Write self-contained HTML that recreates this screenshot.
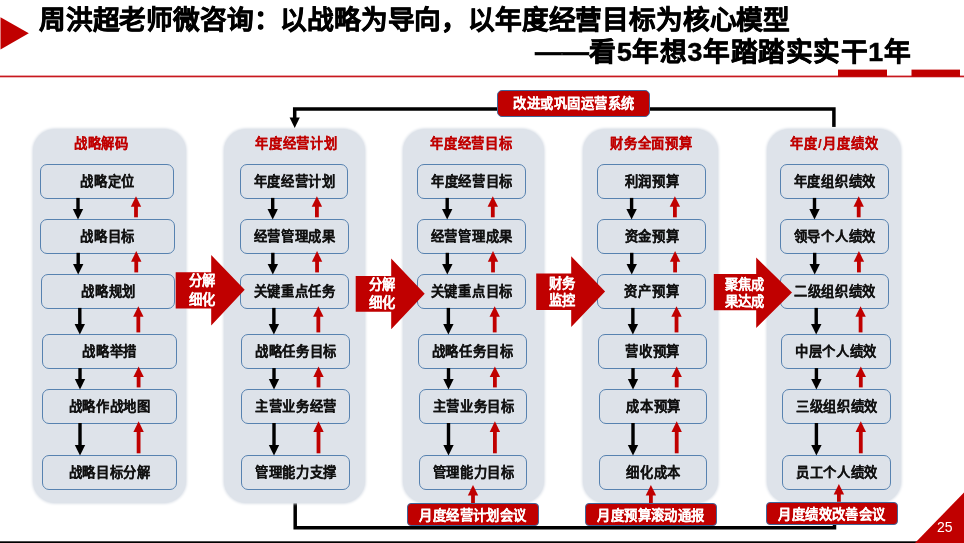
<!DOCTYPE html>
<html lang="zh-CN"><head><meta charset="utf-8"><style>
html,body{margin:0;padding:0;background:#fff;}
body{width:964px;height:543px;position:relative;overflow:hidden;font-family:"Liberation Sans",sans-serif;}
.a{position:absolute;}
.t{position:absolute;white-space:nowrap;font-weight:bold;line-height:1;}
.c{position:absolute;left:0;transform:translateX(-50%);}
.panel{position:absolute;background:#DEE3EA;border-radius:22px;box-shadow:0 0 2.5px 0.8px #DEE3EA;}
.box{position:absolute;box-sizing:border-box;border:1.55px solid #5782B0;border-radius:7px;background:#DDE2E9;}
.bt{position:absolute;left:0;right:0;text-align:center;font-size:13.3px;font-weight:bold;color:#111;white-space:nowrap;line-height:1.2;-webkit-text-stroke:0.15px #111;letter-spacing:0.7px;text-indent:0.7px;}
.w{color:#fff;-webkit-text-stroke:0.05px #fff;font-size:13.3px;}
.ls{letter-spacing:0.45px;}
.t,.bt{will-change:transform;}
</style></head><body>

<svg class="a" style="left:0;top:0" width="964" height="543" viewBox="0 0 964 543">
<polygon points="0.5,17.3 28.8,33.3 0.5,49.5" fill="#C00000"/>
<rect x="0" y="75.6" width="964" height="1.7" fill="#C8181E"/>
<rect x="838" y="69.6" width="49" height="7" fill="#C00000"/>
<rect x="911.5" y="69.6" width="48.5" height="7" fill="#C00000"/>
<path d="M294.7,118 L294.7,109 L833.9,109 L833.9,127" fill="none" stroke="#000" stroke-width="3.5"/>
<path d="M295.2,500 L295.2,527.8 L834.5,527.8 L834.5,500" fill="none" stroke="#000" stroke-width="3.5"/>
</svg>
<div class="panel" style="left:32.6px;top:128.9px;width:153.3px;height:374.4px"></div>
<div class="panel" style="left:224.2px;top:128.9px;width:140.6px;height:374.4px"></div>
<div class="panel" style="left:402.6px;top:128.9px;width:141.1px;height:374.4px"></div>
<div class="panel" style="left:583.2px;top:128.9px;width:134.7px;height:374.4px"></div>
<div class="panel" style="left:766.7px;top:128.9px;width:134.1px;height:374.4px"></div>
<div class="box" style="left:39.9px;top:163.7px;width:134.4px;height:35.4px"><div class="bt" style="top:9.3px">战略定位</div></div>
<div class="box" style="left:40.24px;top:218.8px;width:134.43px;height:35.2px"><div class="bt" style="top:9.3px">战略目标</div></div>
<div class="box" style="left:40.59px;top:273.9px;width:134.46px;height:35.2px"><div class="bt" style="top:9.3px">战略规划</div></div>
<div class="box" style="left:41.97px;top:333.9px;width:134.58px;height:35.4px"><div class="bt" style="top:9.3px">战略举措</div></div>
<div class="box" style="left:42.2px;top:388.9px;width:134.6px;height:35.3px"><div class="bt" style="top:9.3px">战略作战地图</div></div>
<div class="box" style="left:42.2px;top:454.8px;width:134.6px;height:34.9px"><div class="bt" style="top:9.3px">战略目标分解</div></div>
<div class="box" style="left:239.5px;top:163.7px;width:108.8px;height:35.4px"><div class="bt" style="top:9.3px">年度经营计划</div></div>
<div class="box" style="left:239.74px;top:218.8px;width:108.86px;height:35.2px"><div class="bt" style="top:9.3px">经营管理成果</div></div>
<div class="box" style="left:239.98px;top:273.9px;width:108.92px;height:35.2px"><div class="bt" style="top:9.3px">关键重点任务</div></div>
<div class="box" style="left:240.94px;top:333.9px;width:109.16px;height:35.4px"><div class="bt" style="top:9.3px">战略任务目标</div></div>
<div class="box" style="left:241.1px;top:388.9px;width:109.2px;height:35.3px"><div class="bt" style="top:9.3px">主营业务经营</div></div>
<div class="box" style="left:241.1px;top:454.8px;width:109.2px;height:34.9px"><div class="bt" style="top:9.3px">管理能力支撑</div></div>
<div class="box" style="left:416.5px;top:163.7px;width:109.2px;height:35.4px"><div class="bt" style="top:9.3px">年度经营目标</div></div>
<div class="box" style="left:416.83px;top:218.8px;width:109.14px;height:35.2px"><div class="bt" style="top:9.3px">经营管理成果</div></div>
<div class="box" style="left:417.16px;top:273.9px;width:109.08px;height:35.2px"><div class="bt" style="top:9.3px">关键重点目标</div></div>
<div class="box" style="left:418.48px;top:333.9px;width:108.84px;height:35.4px"><div class="bt" style="top:9.3px">战略任务目标</div></div>
<div class="box" style="left:418.7px;top:388.9px;width:108.8px;height:35.3px"><div class="bt" style="top:9.3px">主营业务目标</div></div>
<div class="box" style="left:418.7px;top:454.8px;width:108.8px;height:34.9px"><div class="bt" style="top:9.3px">管理能力目标</div></div>
<div class="box" style="left:596.5px;top:163.7px;width:109.2px;height:35.4px"><div class="bt" style="top:9.3px">利润预算</div></div>
<div class="box" style="left:596.8px;top:218.8px;width:109.13px;height:35.2px"><div class="bt" style="top:9.3px">资金预算</div></div>
<div class="box" style="left:597.1px;top:273.9px;width:109.05px;height:35.2px"><div class="bt" style="top:9.3px">资产预算</div></div>
<div class="box" style="left:598.3px;top:333.9px;width:108.75px;height:35.4px"><div class="bt" style="top:9.3px">营收预算</div></div>
<div class="box" style="left:598.5px;top:388.9px;width:108.7px;height:35.3px"><div class="bt" style="top:9.3px">成本预算</div></div>
<div class="box" style="left:598.5px;top:454.8px;width:108.7px;height:34.9px"><div class="bt" style="top:9.3px">细化成本</div></div>
<div class="box" style="left:779.8px;top:163.7px;width:109.1px;height:35.4px"><div class="bt" style="top:9.3px">年度组织绩效</div></div>
<div class="box" style="left:780.07px;top:218.8px;width:109.13px;height:35.2px"><div class="bt" style="top:9.3px">领导个人绩效</div></div>
<div class="box" style="left:780.34px;top:273.9px;width:109.16px;height:35.2px"><div class="bt" style="top:9.3px">二级组织绩效</div></div>
<div class="box" style="left:781.42px;top:333.9px;width:109.28px;height:35.4px"><div class="bt" style="top:9.3px">中层个人绩效</div></div>
<div class="box" style="left:781.6px;top:388.9px;width:109.3px;height:35.3px"><div class="bt" style="top:9.3px">三级组织绩效</div></div>
<div class="box" style="left:781.6px;top:454.8px;width:109.3px;height:34.9px"><div class="bt" style="top:9.3px">员工个人绩效</div></div>
<svg class="a" style="left:0;top:0" width="964" height="543" viewBox="0 0 964 543">
<polygon points="289.6,117.4 299.8,117.4 294.7,127.9" fill="#000"/>
<rect x="76.3" y="197.9" width="3.4" height="12.1" fill="#000"/>
<polygon points="72.8,209 83.2,209 78,219.5" fill="#000"/>
<rect x="134.1" y="205.2" width="3.8" height="12.1" fill="#C00000"/>
<polygon points="130.8,206.8 141.2,206.8 136,196.2" fill="#C00000"/>
<rect x="76.5" y="252.8" width="3.4" height="12.3" fill="#000"/>
<polygon points="73,264.1 83.4,264.1 78.2,274.6" fill="#000"/>
<rect x="134.36" y="260.1" width="3.8" height="12.3" fill="#C00000"/>
<polygon points="131.06,261.7 141.46,261.7 136.26,251.1" fill="#C00000"/>
<rect x="78.1" y="307.9" width="3.4" height="17.2" fill="#000"/>
<polygon points="74.6,324.1 85,324.1 79.8,334.6" fill="#000"/>
<rect x="136.44" y="315.2" width="3.8" height="17.2" fill="#C00000"/>
<polygon points="133.14,316.8 143.54,316.8 138.34,306.2" fill="#C00000"/>
<rect x="78.3" y="368.1" width="3.4" height="12" fill="#000"/>
<polygon points="74.8,379.1 85.2,379.1 80,389.6" fill="#000"/>
<rect x="136.7" y="375.4" width="3.8" height="12" fill="#C00000"/>
<polygon points="133.4,377 143.8,377 138.6,366.4" fill="#C00000"/>
<rect x="78.3" y="423" width="3.4" height="23" fill="#000"/>
<polygon points="74.8,445 85.2,445 80,455.5" fill="#000"/>
<rect x="136.7" y="430.3" width="3.8" height="23" fill="#C00000"/>
<polygon points="133.4,431.9 143.8,431.9 138.6,421.3" fill="#C00000"/>
<rect x="271" y="197.9" width="3.4" height="12.1" fill="#000"/>
<polygon points="267.5,209 277.9,209 272.7,219.5" fill="#000"/>
<rect x="315" y="205.2" width="3.8" height="12.1" fill="#C00000"/>
<polygon points="311.7,206.8 322.1,206.8 316.9,196.2" fill="#C00000"/>
<rect x="271.13" y="252.8" width="3.4" height="12.3" fill="#000"/>
<polygon points="267.63,264.1 278.03,264.1 272.83,274.6" fill="#000"/>
<rect x="315.16" y="260.1" width="3.8" height="12.3" fill="#C00000"/>
<polygon points="311.86,261.7 322.26,261.7 317.06,251.1" fill="#C00000"/>
<rect x="272.17" y="307.9" width="3.4" height="17.2" fill="#000"/>
<polygon points="268.67,324.1 279.07,324.1 273.87,334.6" fill="#000"/>
<rect x="316.44" y="315.2" width="3.8" height="17.2" fill="#C00000"/>
<polygon points="313.14,316.8 323.54,316.8 318.34,306.2" fill="#C00000"/>
<rect x="272.3" y="368.1" width="3.4" height="12" fill="#000"/>
<polygon points="268.8,379.1 279.2,379.1 274,389.6" fill="#000"/>
<rect x="316.6" y="375.4" width="3.8" height="12" fill="#C00000"/>
<polygon points="313.3,377 323.7,377 318.5,366.4" fill="#C00000"/>
<rect x="272.3" y="423" width="3.4" height="23" fill="#000"/>
<polygon points="268.8,445 279.2,445 274,455.5" fill="#000"/>
<rect x="316.6" y="430.3" width="3.8" height="23" fill="#C00000"/>
<polygon points="313.3,431.9 323.7,431.9 318.5,421.3" fill="#C00000"/>
<rect x="445.5" y="197.9" width="3.4" height="12.1" fill="#000"/>
<polygon points="442,209 452.4,209 447.2,219.5" fill="#000"/>
<rect x="490.9" y="205.2" width="3.8" height="12.1" fill="#C00000"/>
<polygon points="487.6,206.8 498,206.8 492.8,196.2" fill="#C00000"/>
<rect x="445.63" y="252.8" width="3.4" height="12.3" fill="#000"/>
<polygon points="442.13,264.1 452.53,264.1 447.33,274.6" fill="#000"/>
<rect x="491.11" y="260.1" width="3.8" height="12.3" fill="#C00000"/>
<polygon points="487.81,261.7 498.21,261.7 493.01,251.1" fill="#C00000"/>
<rect x="446.67" y="307.9" width="3.4" height="17.2" fill="#000"/>
<polygon points="443.17,324.1 453.57,324.1 448.37,334.6" fill="#000"/>
<rect x="492.79" y="315.2" width="3.8" height="17.2" fill="#C00000"/>
<polygon points="489.49,316.8 499.89,316.8 494.69,306.2" fill="#C00000"/>
<rect x="446.8" y="368.1" width="3.4" height="12" fill="#000"/>
<polygon points="443.3,379.1 453.7,379.1 448.5,389.6" fill="#000"/>
<rect x="493" y="375.4" width="3.8" height="12" fill="#C00000"/>
<polygon points="489.7,377 500.1,377 494.9,366.4" fill="#C00000"/>
<rect x="446.8" y="423" width="3.4" height="23" fill="#000"/>
<polygon points="443.3,445 453.7,445 448.5,455.5" fill="#000"/>
<rect x="493" y="430.3" width="3.8" height="23" fill="#C00000"/>
<polygon points="489.7,431.9 500.1,431.9 494.9,421.3" fill="#C00000"/>
<rect x="629.9" y="197.9" width="3.4" height="12.1" fill="#000"/>
<polygon points="626.4,209 636.8,209 631.6,219.5" fill="#000"/>
<rect x="673" y="205.2" width="3.8" height="12.1" fill="#C00000"/>
<polygon points="669.7,206.8 680.1,206.8 674.9,196.2" fill="#C00000"/>
<rect x="630.04" y="252.8" width="3.4" height="12.3" fill="#000"/>
<polygon points="626.54,264.1 636.94,264.1 631.74,274.6" fill="#000"/>
<rect x="673.18" y="260.1" width="3.8" height="12.3" fill="#C00000"/>
<polygon points="669.88,261.7 680.28,261.7 675.08,251.1" fill="#C00000"/>
<rect x="631.16" y="307.9" width="3.4" height="17.2" fill="#000"/>
<polygon points="627.66,324.1 638.06,324.1 632.86,334.6" fill="#000"/>
<rect x="674.62" y="315.2" width="3.8" height="17.2" fill="#C00000"/>
<polygon points="671.32,316.8 681.72,316.8 676.52,306.2" fill="#C00000"/>
<rect x="631.3" y="368.1" width="3.4" height="12" fill="#000"/>
<polygon points="627.8,379.1 638.2,379.1 633,389.6" fill="#000"/>
<rect x="674.8" y="375.4" width="3.8" height="12" fill="#C00000"/>
<polygon points="671.5,377 681.9,377 676.7,366.4" fill="#C00000"/>
<rect x="631.3" y="423" width="3.4" height="23" fill="#000"/>
<polygon points="627.8,445 638.2,445 633,455.5" fill="#000"/>
<rect x="674.8" y="430.3" width="3.8" height="23" fill="#C00000"/>
<polygon points="671.5,431.9 681.9,431.9 676.7,421.3" fill="#C00000"/>
<rect x="812.8" y="197.9" width="3.4" height="12.1" fill="#000"/>
<polygon points="809.3,209 819.7,209 814.5,219.5" fill="#000"/>
<rect x="856.8" y="205.2" width="3.8" height="12.1" fill="#C00000"/>
<polygon points="853.5,206.8 863.9,206.8 858.7,196.2" fill="#C00000"/>
<rect x="812.99" y="252.8" width="3.4" height="12.3" fill="#000"/>
<polygon points="809.49,264.1 819.89,264.1 814.69,274.6" fill="#000"/>
<rect x="857.01" y="260.1" width="3.8" height="12.3" fill="#C00000"/>
<polygon points="853.71,261.7 864.11,261.7 858.91,251.1" fill="#C00000"/>
<rect x="814.51" y="307.9" width="3.4" height="17.2" fill="#000"/>
<polygon points="811.01,324.1 821.41,324.1 816.21,334.6" fill="#000"/>
<rect x="858.69" y="315.2" width="3.8" height="17.2" fill="#C00000"/>
<polygon points="855.39,316.8 865.79,316.8 860.59,306.2" fill="#C00000"/>
<rect x="814.7" y="368.1" width="3.4" height="12" fill="#000"/>
<polygon points="811.2,379.1 821.6,379.1 816.4,389.6" fill="#000"/>
<rect x="858.9" y="375.4" width="3.8" height="12" fill="#C00000"/>
<polygon points="855.6,377 866,377 860.8,366.4" fill="#C00000"/>
<rect x="814.7" y="423" width="3.4" height="23" fill="#000"/>
<polygon points="811.2,445 821.6,445 816.4,455.5" fill="#000"/>
<rect x="858.9" y="430.3" width="3.8" height="23" fill="#C00000"/>
<polygon points="855.6,431.9 866,431.9 860.8,421.3" fill="#C00000"/>
<polygon points="175.7,272.2 211.2,272.2 211.2,255.1 244.7,289.7 211.2,325.6 211.2,308.5 175.7,308.5" fill="#C00000"/>
<polygon points="355.7,275.9 391.2,275.9 391.2,258.4 424.7,293.8 391.2,329.3 391.2,311.8 355.7,311.8" fill="#C00000"/>
<polygon points="536.2,273.5 571.2,273.5 571.2,256.2 605.1,291.6 571.2,326.9 571.2,310 536.2,310" fill="#C00000"/>
<polygon points="713.8,274 756.2,274 756.2,257.5 792,292.5 756.2,328 756.2,310.3 713.8,310.3" fill="#C00000"/>
<rect x="471.1" y="494" width="3.8" height="9.3" fill="#C00000"/>
<polygon points="467.8,495.6 478.2,495.6 473,485" fill="#C00000"/>
<rect x="649" y="494" width="3.8" height="9.3" fill="#C00000"/>
<polygon points="645.7,495.6 656.1,495.6 650.9,485" fill="#C00000"/>
<rect x="837" y="493" width="3.8" height="8.8" fill="#C00000"/>
<polygon points="833.7,494.6 844.1,494.6 838.9,484" fill="#C00000"/>
<rect x="0" y="541.3" width="964" height="1.7" fill="#000"/>
<polygon points="915,543 964,492.5 964,543" fill="#C00000"/>
</svg>
<div class="t" style="left:100.7px;top:137px;width:0;font-size:13.3px;color:#C00000;-webkit-text-stroke:0.15px #C00000;letter-spacing:0.8px"><span class="c" style="padding-left:0.8px">战略解码</span></div>
<div class="t" style="left:295.8px;top:137px;width:0;font-size:13.3px;color:#C00000;-webkit-text-stroke:0.15px #C00000;letter-spacing:0.8px"><span class="c" style="padding-left:0.8px">年度经营计划</span></div>
<div class="t" style="left:470.9px;top:137px;width:0;font-size:13.3px;color:#C00000;-webkit-text-stroke:0.15px #C00000;letter-spacing:0.8px"><span class="c" style="padding-left:0.8px">年度经营目标</span></div>
<div class="t" style="left:650.5px;top:137px;width:0;font-size:13.3px;color:#C00000;-webkit-text-stroke:0.15px #C00000;letter-spacing:0.8px"><span class="c" style="padding-left:0.8px">财务全面预算</span></div>
<div class="t" style="left:833.7px;top:137px;width:0;font-size:13.3px;color:#C00000;-webkit-text-stroke:0.15px #C00000;letter-spacing:1.1px"><span class="c" style="padding-left:1.1px">年度/月度绩效</span></div>
<div class="t w" style="left:201.5px;top:274.4px;width:0"><span class="c">分解</span></div>
<div class="t w" style="left:201.5px;top:292.8px;width:0"><span class="c">细化</span></div>
<div class="t w" style="left:381.5px;top:277.7px;width:0"><span class="c">分解</span></div>
<div class="t w" style="left:381.5px;top:296.1px;width:0"><span class="c">细化</span></div>
<div class="t w" style="left:561.5px;top:277.2px;width:0"><span class="c">财务</span></div>
<div class="t w" style="left:561.5px;top:293.7px;width:0"><span class="c">监控</span></div>
<div class="t w" style="left:743.5px;top:278.1px;width:0"><span class="c">聚焦成</span></div>
<div class="t w" style="left:743.5px;top:294.6px;width:0"><span class="c">果达成</span></div>
<div class="a" style="left:496.5px;top:89.5px;width:153.7px;height:27.3px;box-sizing:border-box;background:#C00000;border:1px solid #41679A;border-radius:5px"></div>
<div class="t w ls" style="left:573.5px;top:96.5px;width:0"><span class="c">改进或巩固运营系统</span></div>
<div class="a" style="left:406.8px;top:503.3px;width:132.2px;height:23.1px;box-sizing:border-box;background:#C00000;border:1px solid #41679A;border-radius:4px"></div>
<div class="t w ls" style="left:473.1px;top:509.3px;width:0"><span class="c">月度经营计划会议</span></div>
<div class="a" style="left:584.8px;top:503.3px;width:132.2px;height:23.1px;box-sizing:border-box;background:#C00000;border:1px solid #41679A;border-radius:4px"></div>
<div class="t w ls" style="left:651.1px;top:509.3px;width:0"><span class="c">月度预算滚动通报</span></div>
<div class="a" style="left:765.9px;top:501.8px;width:131.9px;height:23px;box-sizing:border-box;background:#C00000;border:1px solid #41679A;border-radius:4px"></div>
<div class="t w ls" style="left:832.05px;top:507.8px;width:0"><span class="c">月度绩效改善会议</span></div>
<div class="t" style="left:39px;top:7px;font-size:26.7px;letter-spacing:-0.18px;color:#000;-webkit-text-stroke:0.6px #000">周洪超老师微咨询：以战略为导向，以年度经营目标为核心模型</div>
<div class="t" style="right:53px;top:39px;font-size:26.7px;color:#000;letter-spacing:0.56px;-webkit-text-stroke:0.6px #000">——看5年想3年踏踏实实干1年</div>
<div class="a" style="left:937px;top:519.5px;font-size:14px;color:#fff;line-height:1">25</div>
</body></html>
